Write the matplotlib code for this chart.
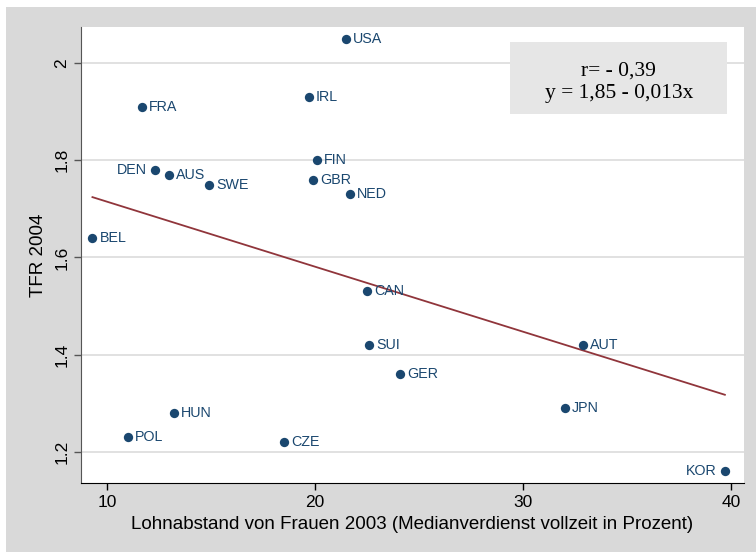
import numpy as np
import matplotlib
matplotlib.use("Agg")
import matplotlib.pyplot as plt
from matplotlib.patches import Rectangle

# Data
countries = ["USA", "FRA", "IRL", "DEN", "AUS", "SWE", "FIN", "GBR", "NED", "BEL",
             "CAN", "SUI", "AUT", "GER", "JPN", "HUN", "POL", "CZE", "KOR"]
wage_gap = [21.5, 11.7, 19.7, 12.3, 13.0, 14.9, 20.1, 19.9, 21.7, 9.3,
            22.5, 22.6, 32.9, 24.1, 32.0, 13.2, 11.0, 18.5, 39.7]
tfr = [2.05, 1.91, 1.93, 1.78, 1.77, 1.75, 1.80, 1.76, 1.73, 1.64,
       1.53, 1.42, 1.42, 1.36, 1.29, 1.28, 1.23, 1.22, 1.16]
label_left = ["DEN", "KOR"]

x_ticks = [10, 20, 30, 40]
y_ticks = [1.2, 1.4, 1.6, 1.8, 2.0]
y_ticklabels = ["1.2", "1.4", "1.6", "1.8", "2"]

navy = "#1a476f"
maroon = "#90353b"

plt.rcParams["font.family"] = ["Liberation Sans", "DejaVu Sans"]

fig = plt.figure(figsize=(7.56, 5.52), dpi=100, facecolor="white")
# grey background panel of the graph region
fig.patches.append(Rectangle((6 / 756, 0), 1, 545 / 552, transform=fig.transFigure,
                             facecolor="#d9d9d9", edgecolor="none", zorder=-10))

ax = fig.add_axes([81 / 756, 1 - 483 / 552, (744 - 81) / 756, (483 - 27) / 552])
ax.set_facecolor("white")

x = np.array(wage_gap)
y = np.array(tfr)

ax.scatter(x, y, s=45, color=navy, zorder=3, linewidths=0)
for name, xi, yi in zip(countries, x, y):
    if name in label_left:
        ax.annotate(name, (xi, yi), xytext=(-6, 0), textcoords="offset points",
                    ha="right", va="center", color=navy, fontsize=10.3)
    else:
        ax.annotate(name, (xi, yi), xytext=(5, 0), textcoords="offset points",
                    ha="left", va="center", color=navy, fontsize=10.3)

# linear fit
b, a = np.polyfit(x, y, 1)
xs = np.array([x.min(), x.max()])
ax.plot(xs, a + b * xs, color=maroon, lw=1.3, zorder=2)

ax.set_xlim(8.75, 40.62)
ax.set_ylim(1.136, 2.074)
ax.set_xticks(x_ticks)
ax.set_yticks(y_ticks)
ax.set_yticklabels(y_ticklabels, rotation=90, va="center")
ax.tick_params(axis="both", labelsize=12.5, length=5, width=1, direction="out", colors="black")
ax.tick_params(axis="y", colors="#555555", labelcolor="black")
ax.grid(axis="y", color="#dcdcdc", lw=1.2)
ax.set_axisbelow(True)

for side in ["top", "right"]:
    ax.spines[side].set_visible(False)
ax.spines["left"].set_color("#555555")
ax.spines["bottom"].set_color("black")

ax.set_xlabel("Lohnabstand von Frauen 2003 (Medianverdienst vollzeit in Prozent)",
              fontsize=13.5, labelpad=4.5)
ax.set_ylabel("TFR 2004", fontsize=13.5, labelpad=5)

# correlation / regression box
ax.add_patch(Rectangle((0.647, 0.809), 0.327, 0.158, transform=ax.transAxes,
                       facecolor="#e6e6e6", edgecolor="none", zorder=4))
ax.text(0.811, 0.879, "r= - 0,39\ny = 1,85 - 0,013x", transform=ax.transAxes,
        ha="center", va="center", fontsize=15.5, family=["Liberation Serif", "DejaVu Serif"],
        linespacing=1.2, zorder=5)

fig.savefig("out.png", dpi=100, facecolor=fig.get_facecolor())
